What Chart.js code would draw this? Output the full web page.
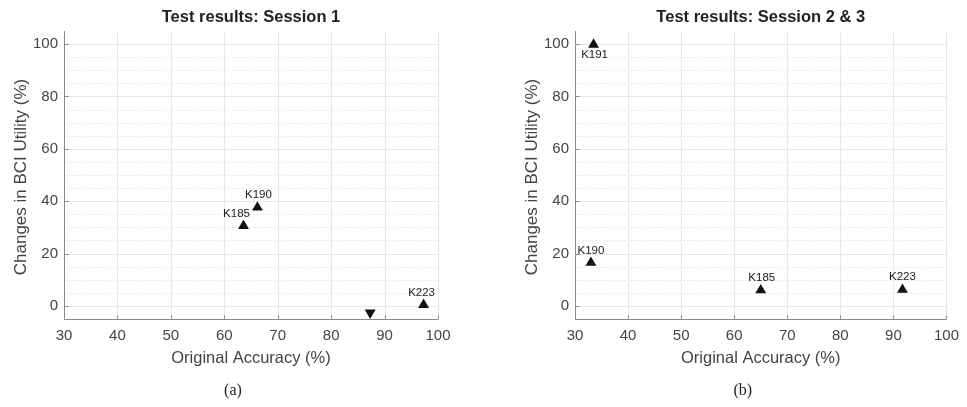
<!DOCTYPE html>
<html>
<head>
<meta charset="utf-8">
<script src="https://cdn.jsdelivr.net/npm/chart.js@4/dist/chart.umd.min.js"></script>
<style>
  html, body { margin: 0; padding: 0; background: #ffffff; }
  #wrap { position: relative; width: 967px; height: 407px; overflow: hidden; }
  canvas { position: absolute; top: 0; }
  #panelA { left: 0; }
  #panelB { left: 483px; }
</style>
</head>
<body>
<div id="wrap">
  <canvas id="panelA" width="483" height="407"></canvas>
  <canvas id="panelB" width="484" height="407"></canvas>
</div>
<script>
// Axis ticks shared by both panels
const xTicks = [30, 40, 50, 60, 70, 80, 90, 100];
const yTicks = [0, 20, 40, 60, 80, 100];

// Session 1: participants whose utility went up
const s1Ids = ['K190', 'K185', 'K223'];
const s1Accuracy = [66.2, 63.6, 97.3];
const s1Change = [37.6, 30.6, 0.4];
// Session 1: participant whose utility went down (unlabelled)
const s1DownAccuracy = [87.3];
const s1DownChange = [-2.6];

// Sessions 2 & 3
const s23Ids = ['K191', 'K190', 'K185', 'K223'];
const s23Accuracy = [33.5, 33.0, 65.0, 91.7];
const s23Change = [99.8, 16.5, 6.0, 6.2];

// Where each identifier sits relative to its marker (px)
const s1LabelShift = [[1, -13], [-7, -12], [-2, -12]];
const s23LabelShift = [[1, 10], [0, -12], [1, -12], [0, -13]];

const SANS = '"Liberation Sans", Arial, Helvetica, sans-serif';

function pts(xs, ys) {
  return xs.map((x, i) => ({ x: x, y: ys[i] }));
}

// Grid, inward tick marks, axis lines, titles, captions and point labels
const decor = {
  id: 'decor',
  beforeDatasetsDraw(chart, args, o) {
    const ctx = chart.ctx;
    const a = chart.chartArea;
    const xs = chart.scales.x, ys = chart.scales.y;
    ctx.save();
    ctx.lineWidth = 1;
    // minor horizontal grid (dotted)
    ctx.strokeStyle = '#e3e3e3';
    ctx.setLineDash([1.5, 2]);
    for (let v = 5; v < ys.max; v += 5) {
      if (v % 20 === 0) continue;
      const py = Math.round(ys.getPixelForValue(v)) + 0.5;
      ctx.beginPath(); ctx.moveTo(a.left, py); ctx.lineTo(a.right, py); ctx.stroke();
    }
    // major grid (solid)
    ctx.setLineDash([]);
    ctx.strokeStyle = '#e6e6e6';
    yTicks.forEach(v => {
      const py = Math.round(ys.getPixelForValue(v)) + 0.5;
      ctx.beginPath(); ctx.moveTo(a.left, py); ctx.lineTo(a.right, py); ctx.stroke();
    });
    xTicks.forEach(v => {
      const px = Math.round(xs.getPixelForValue(v)) + 0.5;
      ctx.beginPath(); ctx.moveTo(px, a.top); ctx.lineTo(px, a.bottom); ctx.stroke();
    });
    // axis lines
    ctx.strokeStyle = '#8a8a8a';
    const lx = Math.round(a.left) + 0.5, by = Math.round(a.bottom) + 0.5;
    ctx.beginPath(); ctx.moveTo(lx, a.top); ctx.lineTo(lx, by); ctx.lineTo(a.right, by); ctx.stroke();
    // inward ticks
    xTicks.forEach(v => {
      const px = Math.round(xs.getPixelForValue(v)) + 0.5;
      ctx.beginPath(); ctx.moveTo(px, by); ctx.lineTo(px, by - 4); ctx.stroke();
    });
    yTicks.forEach(v => {
      const py = Math.round(ys.getPixelForValue(v)) + 0.5;
      ctx.beginPath(); ctx.moveTo(lx, py); ctx.lineTo(lx + 4, py); ctx.stroke();
    });
    ctx.restore();
  },
  afterDatasetsDraw(chart, args, o) {
    const ctx = chart.ctx;
    const a = chart.chartArea;
    const cx = (a.left + a.right) / 2;
    ctx.save();
    // point identifiers
    ctx.fillStyle = '#1a1a1a';
    ctx.font = '11.5px ' + SANS;
    ctx.textAlign = 'center';
    ctx.textBaseline = 'middle';
    const meta = chart.getDatasetMeta(0);
    meta.data.forEach((el, i) => {
      const s = o.shift[i];
      ctx.fillText(o.ids[i], el.x + s[0], el.y + s[1]);
    });
    // panel title
    ctx.fillStyle = '#222222';
    ctx.font = 'bold 16.5px ' + SANS;
    ctx.fillText(o.title, cx, 17);
    // axis titles
    ctx.fillStyle = '#444444';
    ctx.font = '16.5px ' + SANS;
    ctx.fillText('Original Accuracy (%)', cx, 358);
    ctx.save();
    ctx.translate(a.left - 43, (a.top + a.bottom) / 2 + 2);
    ctx.rotate(-Math.PI / 2);
    ctx.font = '17px ' + SANS;
    ctx.fillText('Changes in BCI Utility (%)', 0, 0);
    ctx.restore();
    // sub-figure caption
    ctx.fillStyle = '#222222';
    ctx.font = '16px "Liberation Serif", "DejaVu Serif", serif';
    ctx.fillText(o.caption, cx - 18, 391);
    ctx.restore();
  }
};

function makePanel(id, yAxisWidth, rightPad, datasets, opts) {
  return new Chart(document.getElementById(id), {
    type: 'scatter',
    data: { datasets: datasets },
    options: {
      responsive: false,
      animation: false,
      devicePixelRatio: 1,
      layout: { padding: { left: 0, right: rightPad, top: 31, bottom: 0 } },
      plugins: { legend: { display: false }, tooltip: { enabled: false }, decor: opts },
      scales: {
        x: {
          type: 'linear', min: 30, max: 100,
          afterBuildTicks: s => { s.ticks = xTicks.map(v => ({ value: v })); },
          afterFit: s => { s.height = 88; },
          grid: { display: false, drawTicks: false },
          border: { display: false },
          ticks: { color: '#444444', font: { family: SANS, size: 15 }, padding: 8, maxRotation: 0, autoSkip: false }
        },
        y: {
          type: 'linear', min: -5, max: 105,
          afterBuildTicks: s => { s.ticks = yTicks.map(v => ({ value: v })); },
          afterFit: s => { s.width = yAxisWidth; },
          grid: { display: false, drawTicks: false },
          border: { display: false },
          ticks: { color: '#444444', font: { family: SANS, size: 15 }, padding: 6, autoSkip: false }
        }
      }
    },
    plugins: [decor]
  });
}

const markerStyle = {
  pointStyle: 'triangle',
  pointRadius: 6.3,
  pointBackgroundColor: '#111111',
  pointBorderColor: '#111111',
  pointBorderWidth: 0
};

makePanel('panelA', 64, 45, [
  Object.assign({ data: pts(s1Accuracy, s1Change) }, markerStyle),
  Object.assign({ data: pts(s1DownAccuracy, s1DownChange), pointRotation: 180 }, markerStyle)
], { ids: s1Ids, shift: s1LabelShift, title: 'Test results: Session 1', caption: '(a)' });

makePanel('panelB', 92, 18, [
  Object.assign({ data: pts(s23Accuracy, s23Change) }, markerStyle)
], { ids: s23Ids, shift: s23LabelShift, title: 'Test results: Session 2 & 3', caption: '(b)' });
</script>
</body>
</html>
